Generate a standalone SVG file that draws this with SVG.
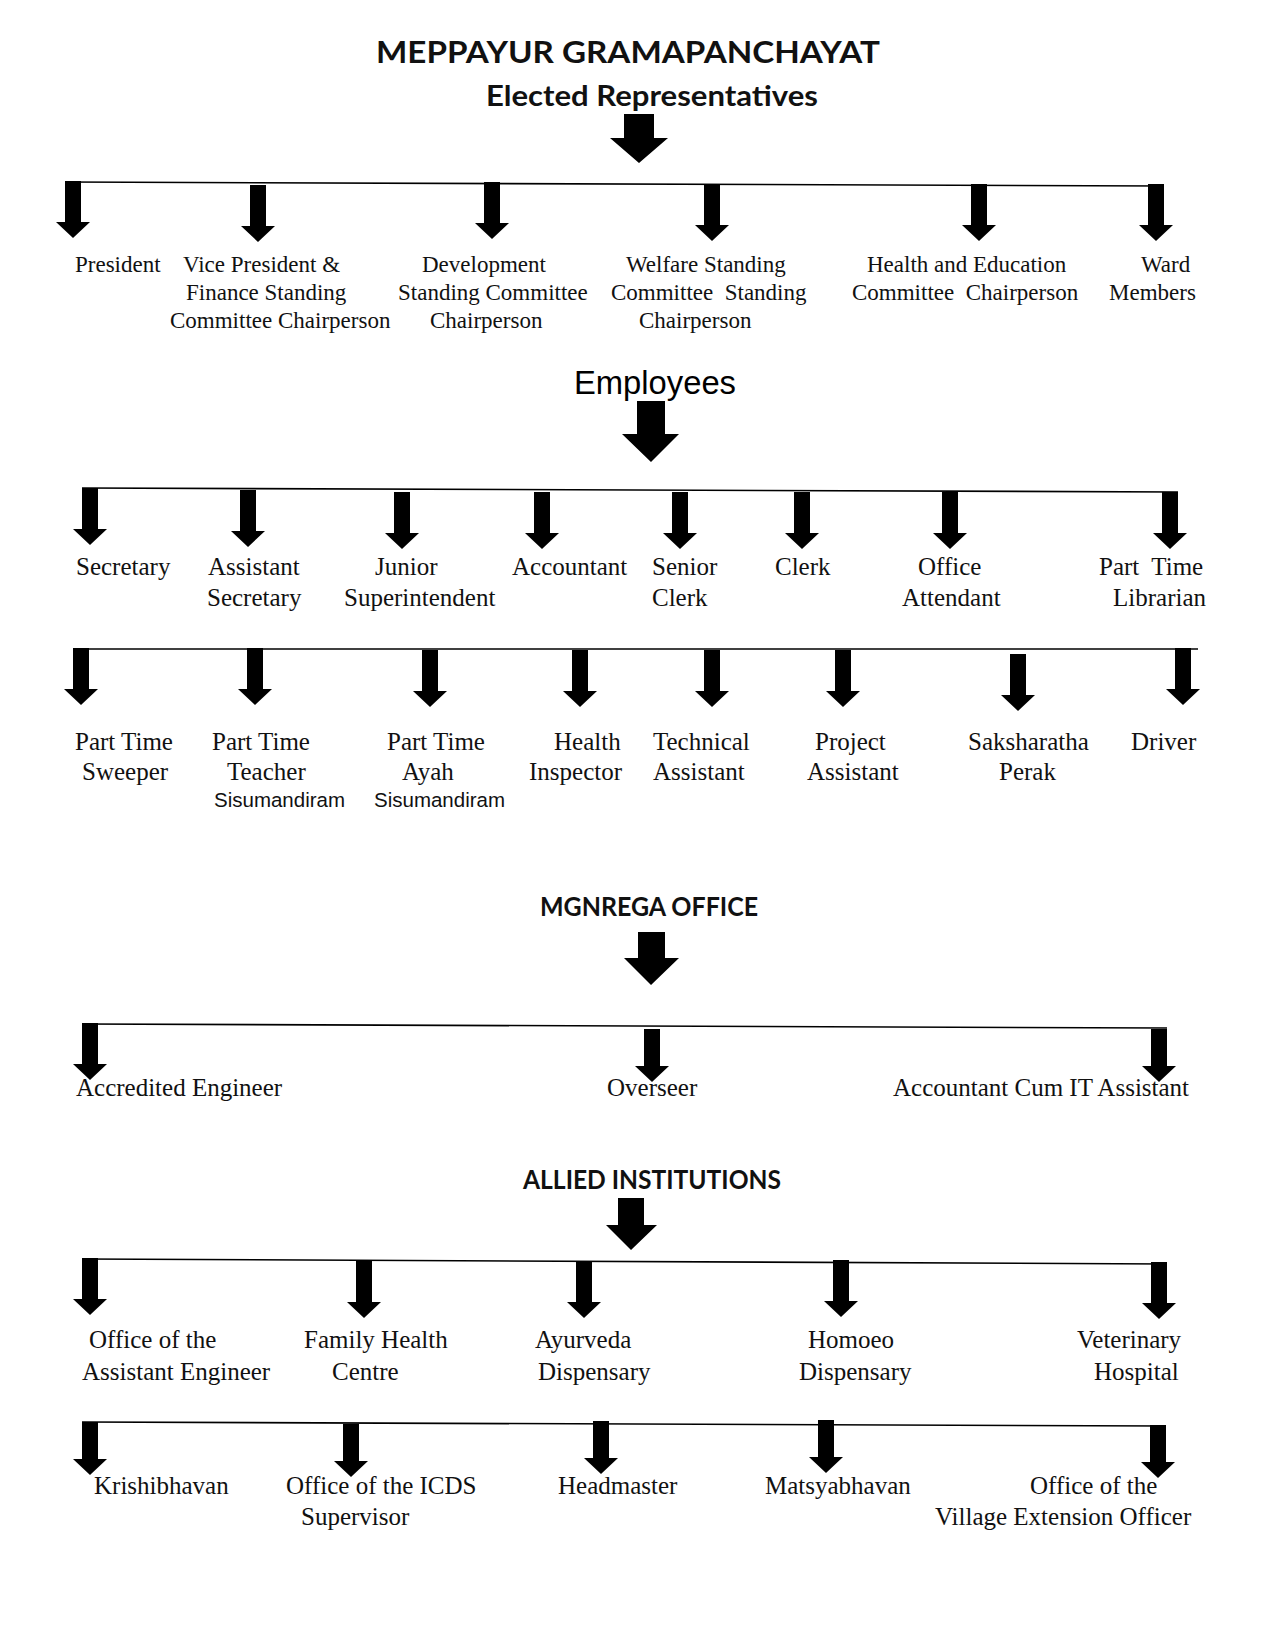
<svg xmlns="http://www.w3.org/2000/svg" xmlns:xlink="http://www.w3.org/1999/xlink" width="1275" height="1650" viewBox="0 0 1275 1650">
<style>
.hd{font-family:Lato,"Open Sans","Liberation Sans",sans-serif;font-weight:bold;fill:#111}
.emp{font-family:"Liberation Sans",Arial,sans-serif;fill:#000}
.t1{font-family:"Liberation Serif","Times New Roman",serif;font-size:23px;fill:#111}
.t2{font-family:"Liberation Serif","Times New Roman",serif;font-size:25px;fill:#111}
.ar{font-family:"Liberation Sans",Arial,sans-serif;font-size:20.5px;fill:#111}
.ln{stroke:#000;stroke-width:1.6;fill:none}
</style>
<defs>
<path id="sa" d="M-8,0 H8 V41 H17 L0,57 L-17,41 H-8 Z" fill="#000"/>
<path id="sb" d="M-8,0 H8 V37 H17 L0,53 L-17,37 H-8 Z" fill="#000"/>
</defs>
<rect width="1275" height="1650" fill="#fff"/>

<g id="title">
<text class="hd" x="376" y="63" font-size="31" textLength="504" lengthAdjust="spacingAndGlyphs">MEPPAYUR GRAMAPANCHAYAT</text>
</g>
<g id="elected">
<text class="hd" x="486" y="106" font-size="29" textLength="332" lengthAdjust="spacingAndGlyphs">Elected Representatives</text>
</g>
<g id="employees">
<text class="emp" x="574" y="394" font-size="33" textLength="162" lengthAdjust="spacingAndGlyphs">Employees</text>
</g>
<g id="mgnrega">
<text class="hd" x="540" y="916" font-size="26" textLength="218" lengthAdjust="spacingAndGlyphs">MGNREGA OFFICE</text>
</g>
<g id="allied">
<text class="hd" x="523" y="1189" font-size="26" textLength="258" lengthAdjust="spacingAndGlyphs">ALLIED INSTITUTIONS</text>
</g>

<g id="connectors">
<path d="M624,114 H654 V138 H668 L639,163 L610,138 H624 Z" fill="#000"/>
<path d="M637,401 H665 V434 H679 L651,462 L622,434 H637 Z" fill="#000"/>
<path d="M638,932 H665 V958 H679 L651,985 L624,958 H638 Z" fill="#000"/>
<path d="M618,1198 H644 V1225 H657 L631,1250 L606,1225 H618 Z" fill="#000"/>

<line class="ln" x1="65" y1="182" x2="1164" y2="186"/>
<use xlink:href="#sa" x="73" y="181"/>
<use xlink:href="#sa" x="258" y="185"/>
<use xlink:href="#sa" x="492" y="182"/>
<use xlink:href="#sa" x="712" y="184"/>
<use xlink:href="#sa" x="979" y="184"/>
<use xlink:href="#sa" x="1156" y="184"/>

<line class="ln" x1="82" y1="488" x2="1178" y2="492"/>
<use xlink:href="#sa" x="90" y="488"/>
<use xlink:href="#sa" x="248" y="490"/>
<use xlink:href="#sa" x="402" y="492"/>
<use xlink:href="#sa" x="542" y="492"/>
<use xlink:href="#sa" x="680" y="492"/>
<use xlink:href="#sa" x="802" y="492"/>
<use xlink:href="#sa" x="950" y="492"/>
<use xlink:href="#sa" x="1170" y="492"/>

<line class="ln" x1="73" y1="649" x2="1198" y2="649"/>
<use xlink:href="#sa" x="81" y="648"/>
<use xlink:href="#sa" x="255" y="648"/>
<use xlink:href="#sa" x="430" y="650"/>
<use xlink:href="#sa" x="580" y="650"/>
<use xlink:href="#sa" x="712" y="650"/>
<use xlink:href="#sa" x="843" y="650"/>
<use xlink:href="#sa" x="1018" y="654"/>
<use xlink:href="#sa" x="1183" y="648"/>

<line class="ln" x1="82" y1="1024" x2="1167" y2="1028"/>
<use xlink:href="#sa" x="90" y="1023"/>
<use xlink:href="#sb" x="652" y="1029"/>
<use xlink:href="#sb" x="1159" y="1029"/>

<line class="ln" x1="82" y1="1259" x2="1167" y2="1264"/>
<use xlink:href="#sa" x="90" y="1258"/>
<use xlink:href="#sa" x="364" y="1261"/>
<use xlink:href="#sa" x="584" y="1261"/>
<use xlink:href="#sa" x="841" y="1260"/>
<use xlink:href="#sa" x="1159" y="1262"/>

<line class="ln" x1="82" y1="1422" x2="1166" y2="1426"/>
<use xlink:href="#sb" x="90" y="1422"/>
<use xlink:href="#sb" x="351" y="1424"/>
<use xlink:href="#sb" x="601" y="1421"/>
<use xlink:href="#sb" x="826" y="1420"/>
<use xlink:href="#sb" x="1158" y="1425"/>
</g>

<g id="president"><text class="t1" x="75" y="272">President</text></g>
<g id="vice-president"><text class="t1" y="272"><tspan x="183">Vice President &amp;</tspan><tspan x="186" dy="28">Finance Standing</tspan><tspan x="170" dy="28">Committee Chairperson</tspan></text></g>
<g id="development"><text class="t1" y="272"><tspan x="422">Development</tspan><tspan x="398" dy="28">Standing Committee</tspan><tspan x="430" dy="28">Chairperson</tspan></text></g>
<g id="welfare"><text class="t1" y="272" xml:space="preserve"><tspan x="626">Welfare Standing</tspan><tspan x="611" dy="28">Committee  Standing</tspan><tspan x="639" dy="28">Chairperson</tspan></text></g>
<g id="health-education"><text class="t1" y="272" xml:space="preserve"><tspan x="867">Health and Education</tspan><tspan x="852" dy="28">Committee  Chairperson</tspan></text></g>
<g id="ward-members"><text class="t1" y="272"><tspan x="1141">Ward</tspan><tspan x="1109" dy="28">Members</tspan></text></g>

<g id="secretary"><text class="t2" x="76" y="575">Secretary</text></g>
<g id="assistant-secretary"><text class="t2" y="575"><tspan x="208">Assistant</tspan><tspan x="207" dy="31">Secretary</tspan></text></g>
<g id="junior-superintendent"><text class="t2" y="575"><tspan x="375">Junior</tspan><tspan x="344" dy="31">Superintendent</tspan></text></g>
<g id="accountant"><text class="t2" x="512" y="575">Accountant</text></g>
<g id="senior-clerk"><text class="t2" y="575"><tspan x="652">Senior</tspan><tspan x="652" dy="31">Clerk</tspan></text></g>
<g id="clerk"><text class="t2" x="775" y="575">Clerk</text></g>
<g id="office-attendant"><text class="t2" y="575"><tspan x="918">Office</tspan><tspan x="902" dy="31">Attendant</tspan></text></g>
<g id="librarian"><text class="t2" y="575" xml:space="preserve"><tspan x="1099">Part  Time</tspan><tspan x="1113" dy="31">Librarian</tspan></text></g>

<g id="sweeper"><text class="t2" y="750"><tspan x="75">Part Time</tspan><tspan x="82" dy="30">Sweeper</tspan></text></g>
<g id="teacher"><text class="t2" y="750"><tspan x="212">Part Time</tspan><tspan x="227" dy="30">Teacher</tspan></text><text class="ar" x="214" y="807">Sisumandiram</text></g>
<g id="ayah"><text class="t2" y="750"><tspan x="387">Part Time</tspan><tspan x="402" dy="30">Ayah</tspan></text><text class="ar" x="374" y="807">Sisumandiram</text></g>
<g id="health-inspector"><text class="t2" y="750"><tspan x="554">Health</tspan><tspan x="529" dy="30">Inspector</tspan></text></g>
<g id="technical-assistant"><text class="t2" y="750"><tspan x="653">Technical</tspan><tspan x="653" dy="30">Assistant</tspan></text></g>
<g id="project-assistant"><text class="t2" y="750"><tspan x="815">Project</tspan><tspan x="807" dy="30">Assistant</tspan></text></g>
<g id="saksharatha"><text class="t2" y="750"><tspan x="968">Saksharatha</tspan><tspan x="999" dy="30">Perak</tspan></text></g>
<g id="driver"><text class="t2" x="1131" y="750">Driver</text></g>

<g id="accredited-engineer"><text class="t2" x="76" y="1096">Accredited Engineer</text></g>
<g id="overseer"><text class="t2" x="607" y="1096">Overseer</text></g>
<g id="accountant-it"><text class="t2" x="893" y="1096">Accountant Cum IT Assistant</text></g>

<g id="assistant-engineer"><text class="t2" y="1348"><tspan x="89">Office of the</tspan><tspan x="82" dy="32">Assistant Engineer</tspan></text></g>
<g id="family-health"><text class="t2" y="1348"><tspan x="304">Family Health</tspan><tspan x="332" dy="32">Centre</tspan></text></g>
<g id="ayurveda"><text class="t2" y="1348"><tspan x="535">Ayurveda</tspan><tspan x="538" dy="32">Dispensary</tspan></text></g>
<g id="homoeo"><text class="t2" y="1348"><tspan x="808">Homoeo</tspan><tspan x="799" dy="32">Dispensary</tspan></text></g>
<g id="veterinary"><text class="t2" y="1348"><tspan x="1077">Veterinary</tspan><tspan x="1094" dy="32">Hospital</tspan></text></g>

<g id="krishibhavan"><text class="t2" x="94" y="1494">Krishibhavan</text></g>
<g id="icds"><text class="t2" y="1494"><tspan x="286">Office of the ICDS</tspan><tspan x="301" dy="31">Supervisor</tspan></text></g>
<g id="headmaster"><text class="t2" x="558" y="1494">Headmaster</text></g>
<g id="matsyabhavan"><text class="t2" x="765" y="1494">Matsyabhavan</text></g>
<g id="village-extension"><text class="t2" y="1494"><tspan x="1030">Office of the</tspan><tspan x="935" dy="31">Village Extension Officer</tspan></text></g>
</svg>
